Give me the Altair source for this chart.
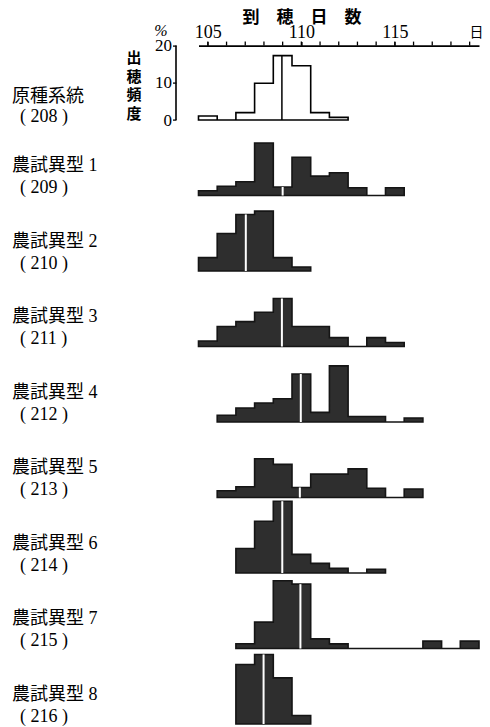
import altair as alt
import pandas as pd

# ---- data (heading-day frequency, %) ----
row_names = ["原種系統", "農試異型 1", "農試異型 2", "農試異型 3", "農試異型 4",
             "農試異型 5", "農試異型 6", "農試異型 7", "農試異型 8"]
row_codes = ["208", "209", "210", "211", "212", "213", "214", "215", "216"]
start_days = [105, 105, 105, 105, 106, 106, 107, 107, 107]
freq_values = [
    [1.1, 0, 2.0, 9.9, 17.3, 14.6, 2.0, 0.7],
    [1.3, 2.5, 3.7, 14.1, 2.3, 10.3, 5.2, 6.1, 2.1, 0, 2.1],
    [3.6, 10.1, 15.2, 16.1, 3.6, 1.1],
    [1.5, 5.4, 6.7, 9.2, 12.9, 5.4, 5.4, 2.4, 0, 2.4, 1.1],
    [1.8, 3.75, 5.1, 6.25, 12.9, 2.6, 15.1, 1.5, 1.5, 0, 1.1],
    [1.8, 2.9, 10.4, 8.9, 2.7, 6.3, 6.3, 7.7, 2.5, 0, 2.3],
    [6.6, 13.9, 19.3, 5.0, 2.6, 1.25, 0, 1.0],
    [1.3, 7.1, 18.2, 17.3, 2.6, 1.25, 0, 0, 0, 0, 2.0, 0, 2.0],
    [16.0, 18.7, 12.4, 2.3],
]
mean_days = [108.96, 109.0, 107.03, 108.96, 109.97, 109.92, 108.98, 109.95, 107.98]
x_labels = [105, 110, 115]
x_minor = list(range(105, 120))
y_ticks = [0, 10, 20]

# ---- layout ----
W, H = 280.5, 681
Y_DOM = [-163, 20]
PX = H / (Y_DOM[1] - Y_DOM[0])      # px per % unit
ROW_STEP = 75.5 / PX                # row spacing in % units

xs = alt.Scale(domain=[104.5, 119.5], nice=False, zero=False)
ys = alt.Scale(domain=Y_DOM, nice=False, zero=False)

hist_rows, mean_rows, label_rows = [], [], []
for i, (s, vals, m) in enumerate(zip(start_days, freq_values, mean_days)):
    base = -i * ROW_STEP
    for k, v in enumerate(vals):
        hist_rows.append({"row": i, "day": s + k - 0.5, "top": base + v, "base": base})
    hist_rows.append({"row": i, "day": s + len(vals) - 0.5, "top": base, "base": base})
    idx = int(round(m - s))
    mean_rows.append({"row": i, "day": m, "base": base, "top": base + vals[idx]})
    d1, d2 = (23, 3.3) if i == 0 else (29.5, 7.5)
    label_rows.append({"row": i, "name": row_names[i], "code": "( " + row_codes[i] + " )",
                       "y1": base + d1 / PX, "y2": base + d2 / PX})

hist = pd.DataFrame(hist_rows)
means = pd.DataFrame(mean_rows)
labels = pd.DataFrame(label_rows)
minor = pd.DataFrame({"day": x_minor})

SERIF = "Liberation Serif, Noto Sans CJK JP"
CJK = "Noto Sans CJK JP"

x_axis = alt.Axis(orient="top", values=x_labels, format="d",
                  labelFont="Liberation Serif", labelFontSize=18, labelColor="black",
                  labelBaseline="alphabetic", labelPadding=4,
                  labelFlush=False, labelOverlap=False, labelBound=False,
                  tickSize=4, tickWidth=1.3, tickColor="black",
                  domainColor="black", domainWidth=1.6, grid=False,
                  title="日", titleFont=CJK, titleFontSize=14, titleFontWeight="normal",
                  titleColor="black", titleAngle=0, titleX=W - 3, titleY=-12.6,
                  titleAlign="center", titleBaseline="middle")
y_axis = alt.Axis(values=y_ticks, offset=22.5, domain=False, grid=False,
                  labelFont="Liberation Serif", labelFontSize=17, labelColor="black",
                  labelPadding=1, labelOverlap=False, tickSize=3.5, tickWidth=1.3,
                  tickColor="black",
                  title=["出", "穂", "頻", "度"], titleFont=CJK, titleFontSize=15,
                  titleFontWeight="bold", titleColor="black", titleAngle=0,
                  titleX=-42.5, titleY=5, titleAlign="center", titleBaseline="top",
                  titleLineHeight=18.7)

base_hist = alt.Chart(hist)

outline = base_hist.transform_filter("datum.row == 0").mark_area(
    interpolate="step-after", fill="white", stroke="black", strokeWidth=1.6
).encode(
    x=alt.X("day:Q", scale=xs, axis=x_axis),
    y=alt.Y("top:Q", scale=ys, axis=y_axis),
    y2="base:Q",
    detail="row:N",
)

filled = base_hist.transform_filter("datum.row > 0").mark_area(
    interpolate="step-after", fill="#2e2e2e", stroke="#151515", strokeWidth=1.6
).encode(
    x=alt.X("day:Q", scale=xs),
    y=alt.Y("top:Q", scale=ys),
    y2="base:Q",
    detail="row:N",
)

mean_black = alt.Chart(means).transform_filter("datum.row == 0").mark_rule(
    color="black", strokeWidth=1.5
).encode(
    x=alt.X("day:Q", scale=xs),
    y=alt.Y("base:Q", scale=ys),
    y2="top:Q",
)

mean_white = alt.Chart(means).transform_filter("datum.row > 0").mark_rule(
    color="white", strokeWidth=2
).encode(
    x=alt.X("day:Q", scale=xs),
    y=alt.Y("base:Q", scale=ys),
    y2="top:Q",
)

# daily minor ticks on the top axis
minor_ticks = alt.Chart(minor).mark_rule(color="black", strokeWidth=1.3).encode(
    x=alt.X("day:Q", scale=xs),
    y=alt.value(0),
    y2=alt.value(-4),
)

# y-axis line spanning 0-20 of the first row
yline = alt.Chart(pd.DataFrame({"lo": [y_ticks[0]], "hi": [y_ticks[-1]]})).mark_rule(
    color="black", strokeWidth=1.6
).encode(
    x=alt.value(-22.5),
    y=alt.Y("lo:Q", scale=ys),
    y2="hi:Q",
)

name_txt = alt.Chart(labels).mark_text(
    align="left", baseline="middle", font=SERIF, fontSize=18, color="black"
).encode(
    x=alt.value(12 - 198.5),
    y=alt.Y("y1:Q", scale=ys),
    text="name:N",
)

code_txt = alt.Chart(labels).mark_text(
    align="left", baseline="middle", font=SERIF, fontSize=18, color="black"
).encode(
    x=alt.value(20 - 198.5),
    y=alt.Y("y2:Q", scale=ys),
    text="code:N",
)

title_txt = alt.Chart(pd.DataFrame({"t": ["到　穂　日　数"]})).mark_text(
    align="center", baseline="middle", font=CJK, fontSize=17, fontWeight="bold", color="black"
).encode(x=alt.value(103.5), y=alt.value(-27.5), text="t:N")

pct_txt = alt.Chart(pd.DataFrame({"t": ["%"]})).mark_text(
    align="center", baseline="middle", font="Liberation Serif", fontSize=16,
    fontStyle="italic", color="black"
).encode(x=alt.value(-37.5), y=alt.value(-14.5), text="t:N")

chart = alt.layer(
    outline, filled, mean_black, mean_white, minor_ticks, yline,
    name_txt, code_txt, title_txt, pct_txt
).properties(
    width=W, height=H,
    autosize=alt.AutoSizeParams(type="none"),
    padding={"left": 190.5, "top": 37.6, "right": 3, "bottom": 0},
    background="white",
).configure_view(stroke=None)

chart.save("out.html", embed_options={"renderer": "svg", "actions": False})
